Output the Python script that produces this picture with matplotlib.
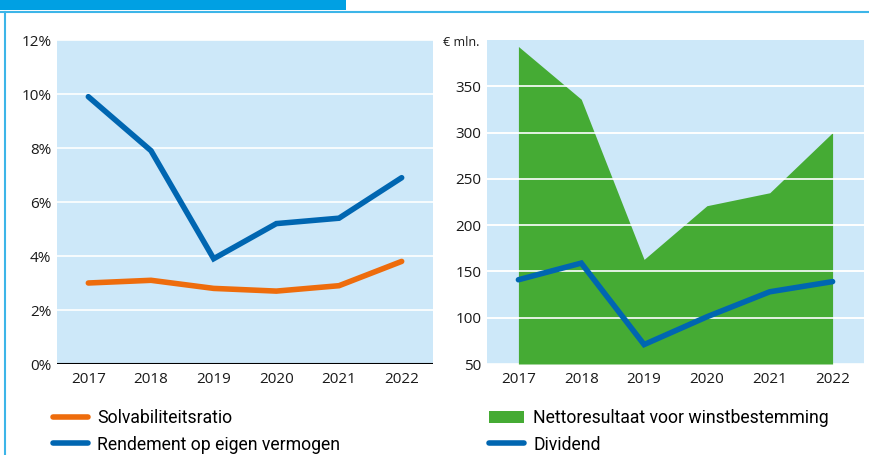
import matplotlib
matplotlib.use("Agg")
import matplotlib.pyplot as plt
from matplotlib.lines import Line2D
from matplotlib.patches import Rectangle, Patch

years = [2017, 2018, 2019, 2020, 2021, 2022]
solvabiliteit = [3.0, 3.1, 2.8, 2.7, 2.9, 3.8]
rendement = [9.9, 7.9, 3.9, 5.2, 5.4, 6.9]
nettoresultaat = [393, 336, 163, 221, 235, 300]
dividend = [141, 159, 71, 101, 128, 139]
left_ticks = [0, 2, 4, 6, 8, 10, 12]
right_ticks = [50, 100, 150, 200, 250, 300, 350]

BG = "#cde8f9"
ORANGE = "#ee6c0c"
BLUE = "#0066b1"
GREEN = "#45ab34"
FRAME = "#00a0e3"

plt.rcParams['font.family'] = ['Open Sans', 'DejaVu Sans']

W, H = 870, 455
fig = plt.figure(figsize=(W/100, H/100), dpi=100)

def ax_rect(l, t, r, b):
    return [l/W, 1 - b/H, (r-l)/W, (b-t)/H]

# frame decorations
fig.add_artist(Rectangle((0, 1-10/H), 346/W, 10/H, transform=fig.transFigure, color=FRAME, lw=0))
fig.add_artist(Line2D([0, 1], [1-11.5/H, 1-11.5/H], transform=fig.transFigure, color="#3db5e8", lw=1.5))
fig.add_artist(Line2D([5/W, 5/W], [0, 1-11.5/H], transform=fig.transFigure, color="#3db5e8", lw=1.5))

ax1 = fig.add_axes(ax_rect(57, 40, 433, 364))
ax2 = fig.add_axes(ax_rect(487, 40, 864, 364))

for ax in (ax1, ax2):
    ax.set_facecolor(BG)
    for s in ax.spines.values():
        s.set_visible(False)
    ax.set_xlim(2016.5, 2022.5)
    ax.set_xticks(years)
    ax.set_xticklabels([str(y) for y in years])
    ax.tick_params(axis='both', length=0, labelsize=11, colors="#1a1a1a")
    ax.tick_params(axis='x', pad=6)
    ax.tick_params(axis='y', pad=4)
    ax.grid(axis='y', color='white', lw=1.2)
    ax.set_axisbelow(True)

# left chart
ax1.set_ylim(0, 12)
ax1.set_yticks(left_ticks)
ax1.set_yticklabels([f"{v}%" for v in left_ticks])
ax1.plot(years, rendement, color=BLUE, lw=4, solid_capstyle='round', solid_joinstyle='miter', zorder=3)
ax1.plot(years, solvabiliteit, color=ORANGE, lw=4, solid_capstyle='round', solid_joinstyle='miter', zorder=3)
ax1.axhline(0, color='black', lw=1.5, zorder=4)

# right chart
ax2.set_ylim(50, 400)
ax2.set_yticks(right_ticks)
ax2.set_yticklabels([str(v) for v in right_ticks])
ax2.fill_between(years, 50, nettoresultaat, color=GREEN, lw=0, zorder=2)
for v in right_ticks[1:]:
    ax2.axhline(v, color='white', lw=1.2, zorder=2.5)
ax2.plot(years, dividend, color=BLUE, lw=4, solid_capstyle='round', solid_joinstyle='miter', zorder=3)

fig.text(443/W, 1-43/H, "€ mln.", fontsize=9, va='center', ha='left', color="#1a1a1a")

# legends
leg_font = {'family': ['Liberation Sans Narrow', 'Roboto', 'DejaVu Sans'], 'size': 12.7}
h1 = [Line2D([], [], color=ORANGE, lw=4, solid_capstyle='round'),
      Line2D([], [], color=BLUE, lw=4, solid_capstyle='round')]
l1 = fig.legend(h1, ["Solvabiliteitsratio", "Rendement op eigen vermogen"],
                loc='upper left', bbox_to_anchor=(53/W, 1-409/H), frameon=False,
                prop=leg_font, handlelength=2.0, handletextpad=0.5, labelspacing=0.49,
                borderaxespad=0, borderpad=0)
h2 = [Patch(facecolor=GREEN, edgecolor='none'),
      Line2D([], [], color=BLUE, lw=4, solid_capstyle='round')]
l2 = fig.legend(h2, ["Nettoresultaat voor winstbestemming", "Dividend"],
                loc='upper left', bbox_to_anchor=(489/W, 1-409/H), frameon=False,
                prop=leg_font, handlelength=2.0, handletextpad=0.5, labelspacing=0.49,
                borderaxespad=0, borderpad=0)

fig.savefig("out.png", dpi=100)
